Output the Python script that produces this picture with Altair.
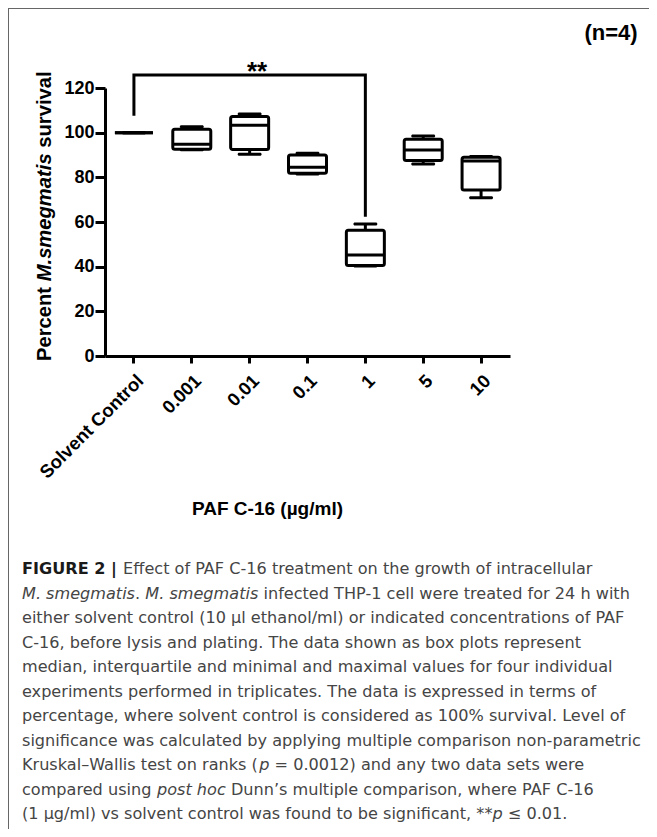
import altair as alt
import pandas as pd

# ---------------- data ----------------
categories = ["Solvent Control", "0.001", "0.01", "0.1", "1", "5", "10"]
mins    = [100.0, 92.3, 90.3, 81.5, 40.3, 86.0, 70.9]
q1s     = [100.0, 92.6, 92.5, 81.8, 40.5, 87.5, 74.3]
medians = [100.0, 94.8, 103.3, 84.5, 45.2, 92.2, 87.3]
q3s     = [100.0, 101.5, 107.2, 90.0, 56.3, 97.0, 89.0]
maxs    = [100.0, 102.7, 108.4, 90.8, 59.1, 98.5, 89.3]

bracket_x = ["Solvent Control", "Solvent Control", "1", "1"]
bracket_y = [107.6, 125.8, 125.8, 62.4]
y_ticks = [0, 20, 40, 60, 80, 100, 120]

x_title = "PAF C-16 (µg/ml)"
y_title_parts = ["Percent ", "M.smegmatis ", "survival"]
y_title_styles = ["normal", "italic", "normal"]
sig_label = "**"
n_label = "(n=4)"

caption_lines = [
    [("FIGURE 2 |", "bold", "normal"), (" Effect of PAF C-16 treatment on the growth of intracellular", "normal", "normal")],
    [("M. smegmatis", "normal", "italic"), (". ", "normal", "normal"), ("M. smegmatis", "normal", "italic"),
     (" infected THP-1 cell were treated for 24 h with", "normal", "normal")],
    [("either solvent control (10 μl ethanol/ml) or indicated concentrations of PAF", "normal", "normal")],
    [("C-16, before lysis and plating. The data shown as box plots represent", "normal", "normal")],
    [("median, interquartile and minimal and maximal values for four individual", "normal", "normal")],
    [("experiments performed in triplicates. The data is expressed in terms of", "normal", "normal")],
    [("percentage, where solvent control is considered as 100% survival. Level of", "normal", "normal")],
    [("significance was calculated by applying multiple comparison non-parametric", "normal", "normal")],
    [("Kruskal–Wallis test on ranks (", "normal", "normal"), ("p", "normal", "italic"),
     (" = 0.0012) and any two data sets were", "normal", "normal")],
    [("compared using ", "normal", "normal"), ("post hoc", "normal", "italic"),
     (" Dunn’s multiple comparison, where PAF C-16", "normal", "normal")],
    [("(1 μg/ml) vs solvent control was found to be significant, **", "normal", "normal"),
     ("p", "normal", "italic"), (" ≤ 0.01.", "normal", "normal")],
]

# ---------------- font metrics (advance widths in em) ----------------
# Arial / Liberation Sans Bold (for the rotated y title)
ARIAL_BOLD = {' ': .278, '.': .278, 'M': .833, 'P': .667, 'a': .556, 'c': .556, 'e': .556,
              'g': .611, 'i': .278, 'l': .278, 'm': .889, 'n': .611, 'r': .389, 's': .556,
              't': .333, 'u': .611, 'v': .556}
# DejaVu Sans Book / Oblique (for the caption)
DEJAVU = {' ': .318, '(': .390, ')': .390, '*': .500, ',': .318, '-': .361, '.': .318,
          '/': .337, ':': .337, '=': .838, '%': .950, '|': .337, '–': .500, '’': .318,
          'μ': .636, '≤': .838,
          'A': .684, 'B': .686, 'C': .698, 'D': .770, 'E': .632, 'F': .575, 'G': .775,
          'H': .752, 'I': .295, 'J': .295, 'K': .656, 'L': .557, 'M': .863, 'N': .748,
          'O': .787, 'P': .603, 'Q': .787, 'R': .695, 'S': .635, 'T': .611, 'U': .732,
          'V': .684, 'W': .989, 'X': .685, 'Y': .611, 'Z': .685,
          'a': .613, 'b': .635, 'c': .550, 'd': .635, 'e': .615, 'f': .352, 'g': .635,
          'h': .634, 'i': .278, 'j': .278, 'k': .579, 'l': .278, 'm': .974, 'n': .634,
          'o': .612, 'p': .635, 'q': .635, 'r': .411, 's': .521, 't': .392, 'u': .634,
          'v': .592, 'w': .818, 'x': .592, 'y': .592, 'z': .525}


def text_width(s, size, table, default=.6):
    return sum(table.get(c, default) for c in s) * size


# ---------------- layout (pixels, relative to plot origin) ----------------
W, H = 405, 268
PAD_L, PAD_T = 97, 80
TOTAL_W, TOTAL_H = 641, 821
OX, OY = PAD_L + 8, PAD_T + 8          # page position of the plot origin
FONT = "Liberation Sans"
CAP_FONT = "DejaVu Sans"
CAP_SIZE = 16.1
cap_x0 = 22 - OX
cap_base0 = 574 - OY
cap_step = 24.5
fig_label_end = 118 - OX

df = pd.DataFrame({"cat": categories, "mn": mins, "q1": q1s, "med": medians,
                   "q3": q3s, "mx": maxs})

x_enc = alt.X("cat:N", sort=categories,
              scale=alt.Scale(paddingInner=0, paddingOuter=0),
              axis=alt.Axis(title=x_title, labelAngle=-45, labelFontSize=18.5,
                            labelFontWeight="bold", labelFont=FONT, labelColor="black",
                            labelPadding=8, tickSize=7, tickWidth=3, tickColor="black",
                            domainWidth=3, domainColor="black",
                            titleFont=FONT, titleFontSize=19, titleFontWeight="bold",
                            titleColor="black", titleX=162, titleY=152,
                            titleAlign="center", titleBaseline="middle"))

y_axis = alt.Axis(title=None, values=y_ticks, labelFontSize=18, labelFontWeight="bold",
                  labelFont=FONT, labelColor="black", labelPadding=1, tickSize=10,
                  tickWidth=3, tickColor="black", domainWidth=3, domainColor="black",
                  grid=False)
y_scale = alt.Scale(domain=[0, 120], nice=False)


def Y(field):
    return alt.Y(f"{field}:Q", scale=y_scale, axis=y_axis)


base = alt.Chart(df)
whisk_lo = base.mark_rule(color="black", strokeWidth=3).encode(x=x_enc, y=Y("mn"), y2="q1")
whisk_hi = base.mark_rule(color="black", strokeWidth=3).encode(x=x_enc, y=Y("q3"), y2="mx")
boxes = base.mark_bar(size=38, fill="white", stroke="black", strokeWidth=3,
                      cornerRadius=2).encode(x=x_enc, y=Y("q1"), y2="q3")
med = base.mark_tick(size=38, thickness=3, color="black", opacity=1).encode(x=x_enc, y=Y("med"))
cap_lo = base.mark_tick(size=24, thickness=3, color="black", opacity=1,
                        cornerRadius=1.5).encode(x=x_enc, y=Y("mn"))
cap_hi = base.mark_tick(size=24, thickness=3, color="black", opacity=1,
                        cornerRadius=1.5).encode(x=x_enc, y=Y("mx"))

bdf = pd.DataFrame({"cat": bracket_x, "by": bracket_y, "o": list(range(len(bracket_x)))})
bracket = alt.Chart(bdf).mark_line(color="black", strokeWidth=3, strokeJoin="miter").encode(
    x=x_enc, y=Y("by"), order="o:Q")

one = pd.DataFrame({"k": [0]})
sig = alt.Chart(one).mark_text(text=sig_label, font=FONT, fontSize=26, fontWeight="bold",
                               align="center", baseline="alphabetic", color="black").encode(
    x=alt.value(257 - OX), y=alt.value(80 - OY))
ntext = alt.Chart(one).mark_text(text=n_label, font=FONT, fontSize=22, fontWeight="bold",
                                 align="center", baseline="middle", color="black").encode(
    x=alt.value(611 - OX), y=alt.value(33 - OY))

# y title in three styled pieces (rotated, reading upward)
ytitle_layers = []
YT_SIZE = 20.2
pos = 361 - OY
for part, style in zip(y_title_parts, y_title_styles):
    ytitle_layers.append(alt.Chart(one).mark_text(
        text=part.strip(), font=FONT, fontSize=YT_SIZE, fontWeight="bold", fontStyle=style,
        angle=270, align="left", baseline="alphabetic", color="black").encode(
        x=alt.value(51 - OX), y=alt.value(pos)))
    pos -= text_width(part, YT_SIZE, ARIAL_BOLD)

# caption, each line flowed from its styled segments (leading blanks turned into offsets)
cap_layers = []
space_w = DEJAVU[' '] * CAP_SIZE
for i, line in enumerate(caption_lines):
    cx = cap_x0
    for j, (txt, wt, st) in enumerate(line):
        bold = wt == "bold"
        lead = len(txt) - len(txt.lstrip(' '))
        cx += lead * space_w
        body = txt.strip(' ')
        cap_layers.append(alt.Chart(one).mark_text(
            text=body, font=CAP_FONT, fontSize=CAP_SIZE,
            fontWeight=("bold" if bold else "normal"), fontStyle=st,
            align="left", baseline="alphabetic",
            color=("#1a1a1a" if bold else "#454545")).encode(
            x=alt.value(cx), y=alt.value(cap_base0 + cap_step * i)))
        cx += text_width(body, CAP_SIZE, DEJAVU)
        cx += (len(txt.rstrip(' ')) - len(txt.strip(' ')) and 0) + \
            (len(txt) - len(txt.rstrip(' '))) * space_w
        if i == 0 and j == 0:
            cx = fig_label_end

# frame lines of the figure panel
frame_l = alt.Chart(one).mark_rule(color="#666666", strokeWidth=1).encode(
    x=alt.value(-96.5), y=alt.value(-80), y2=alt.value(TOTAL_H - PAD_T))
frame_t = alt.Chart(one).mark_rule(color="#666666", strokeWidth=1).encode(
    x=alt.value(-97), x2=alt.value(TOTAL_W - PAD_L), y=alt.value(-79.5))

chart = alt.layer(
    whisk_lo, whisk_hi, boxes, med, cap_lo, cap_hi, bracket, sig, ntext,
    *ytitle_layers, *cap_layers, frame_l, frame_t
).properties(
    width=W, height=H,
    autosize=alt.AutoSizeParams(type="none"),
    padding={"left": PAD_L, "top": PAD_T, "right": TOTAL_W - PAD_L - W,
             "bottom": TOTAL_H - PAD_T - H},
).configure(background="white").configure_view(strokeWidth=0, stroke="transparent")

chart.save("out.html", embed_options={"renderer": "svg", "actions": False})
